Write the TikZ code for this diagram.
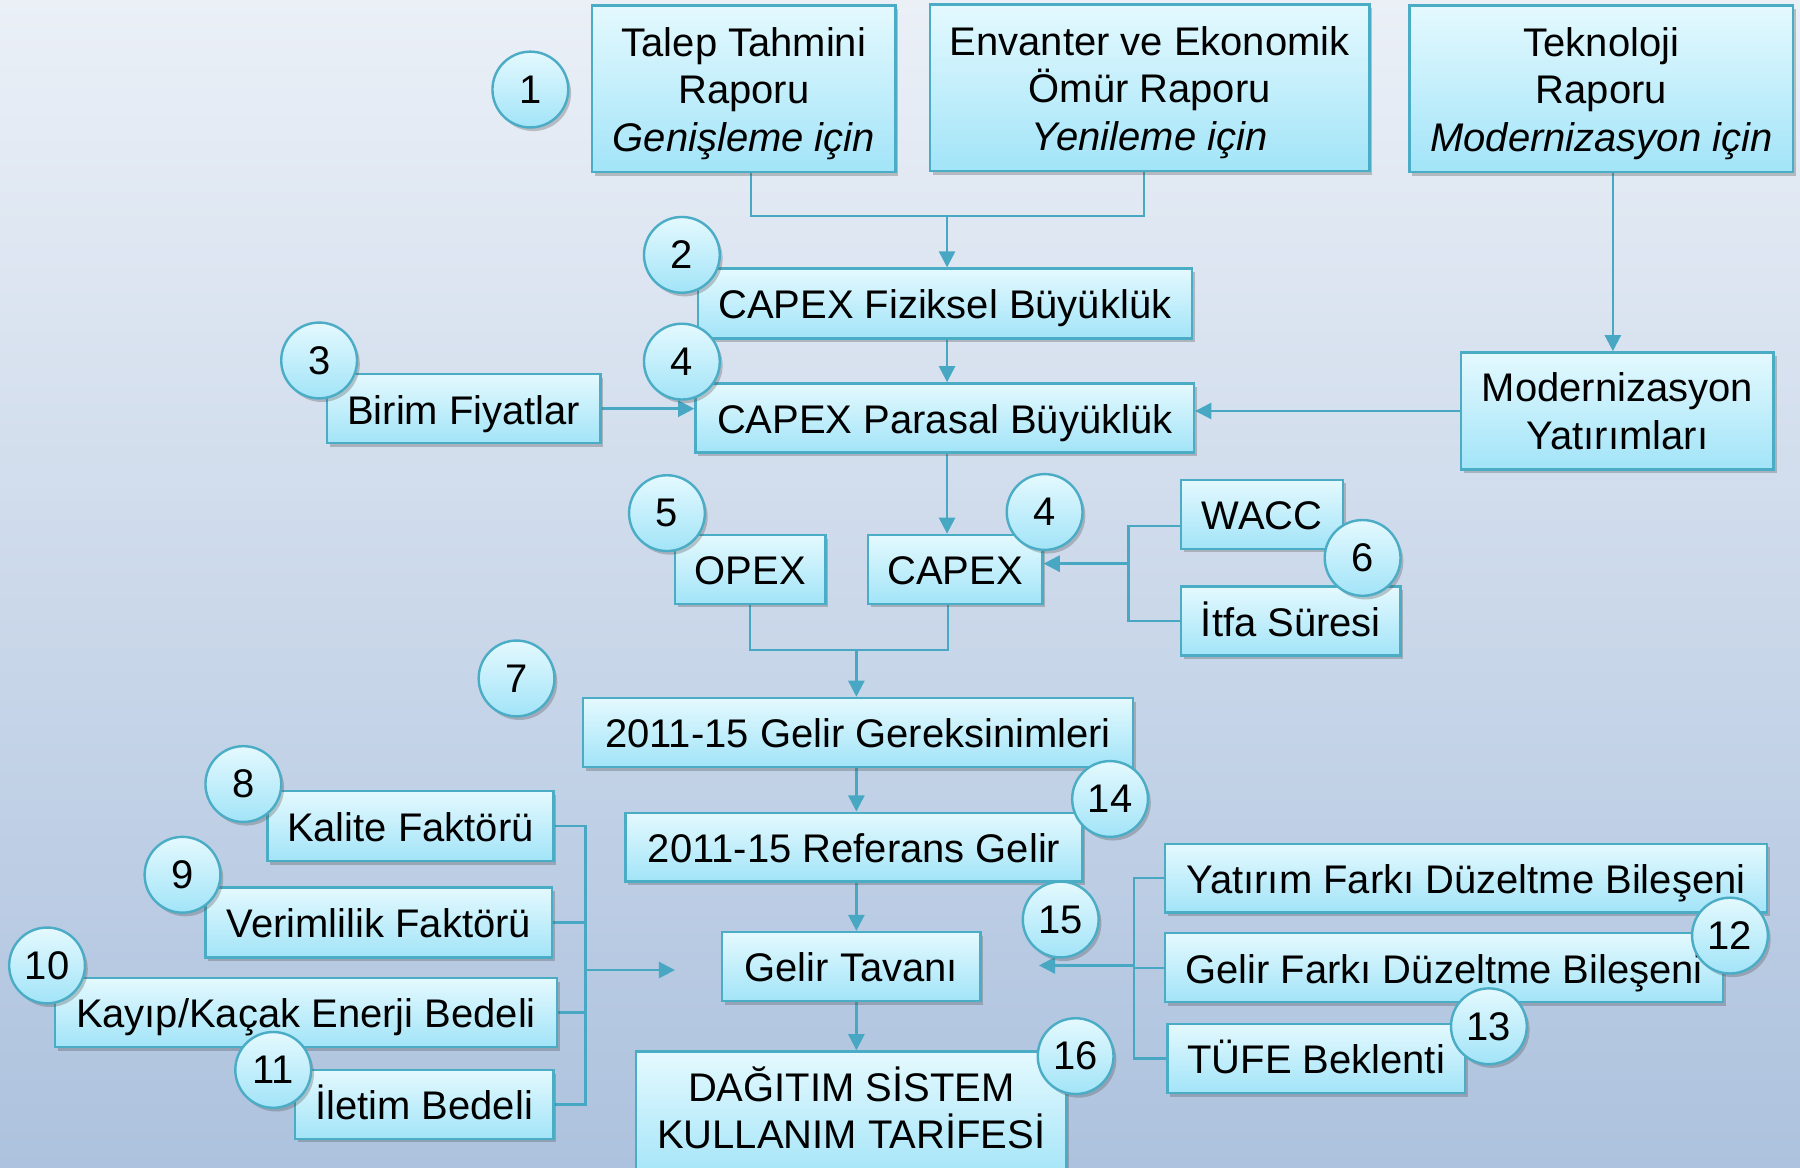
\documentclass[tikz,border=0pt]{standalone}
\usepackage{fontspec}
\setmainfont{Liberation Sans}
\usetikzlibrary{arrows.meta,shadows,calc}
\definecolor{bord}{HTML}{4BACC6}
\definecolor{linec}{HTML}{48A8C4}
\definecolor{boxtop}{HTML}{E4F9FE}
\definecolor{boxbot}{HTML}{A2E4F8}
\definecolor{bgtop}{HTML}{EBF0F7}
\definecolor{bgbot}{HTML}{ADC2DE}
\pgfdeclarelayer{bg}\pgfdeclarelayer{conn}\pgfsetlayers{bg,conn,main}
\newcommand{\fsz}{\fontsize{9.9}{11.8}\selectfont}
\newcommand{\upstrut}{\rule{0pt}{9.4pt}}
\newcommand{\dnstrut}{\rule[-4.6pt]{0pt}{4.6pt}}
\tikzset{
  shad/.style={drop shadow={shadow xshift=0.7pt,shadow yshift=-0.9pt,opacity=0.3,fill=black!70}},
  box/.style={draw=bord,line width=0.6pt,top color=boxtop,bottom color=boxbot,shad,
    inner sep=0pt,align=center,font=\fsz},
  boxone/.style={box,text height=8.6pt,text depth=1pt},
  num/.style={circle,draw=bord,line width=0.6pt,top color=boxtop,bottom color=boxbot,shad,
    minimum size=0.66cm,inner sep=0pt,font=\fsz},
  conn/.style={draw=linec,line width=0.6pt},
  arr/.style={conn,-{Triangle[length=4pt,width=4pt]}}
}
\begin{document}
\begin{tikzpicture}[x=0.01cm,y=-0.01cm]
\useasboundingbox (0,0) rectangle (1568,1017);
\clip (0,0) rectangle (1568,1017);
\begin{pgfonlayer}{bg}
\fill[top color=bgtop,bottom color=bgbot] (0,0) rectangle (1568,1017);
\end{pgfonlayer}
% boxes
\node[box,minimum width=2.64cm,minimum height=1.45cm] (talep) at (648,77.5) {\upstrut Talep Tahmini\\Raporu\\\textit{Genişleme için}};
\node[box,minimum width=3.83cm,minimum height=1.45cm] (envanter) at (1001.5,76.5) {\upstrut Envanter ve Ekonomik\\Ömür Raporu\\\textit{Yenileme için}};
\node[box,minimum width=3.34cm,minimum height=1.45cm] (tekno) at (1395,77.5) {\upstrut Teknoloji\\Raporu\\\textit{Modernizasyon için}};
\node[boxone,minimum width=4.30cm,minimum height=0.61cm] (fiz) at (823,264.5) {CAPEX Fiziksel Büyüklük};
\node[boxone,minimum width=2.38cm,minimum height=0.60cm] (birim) at (404,356) {Birim Fiyatlar};
\node[boxone,minimum width=4.34cm,minimum height=0.60cm] (paras) at (823,364) {CAPEX Parasal Büyüklük};
\node[box,minimum width=2.72cm,minimum height=1.02cm] (modern) at (1409,358) {Modernizasyon\\Yatırımları};
\node[boxone,minimum width=1.31cm,minimum height=0.60cm] (opex) at (653.5,496) {OPEX};
\node[boxone,minimum width=1.52cm,minimum height=0.60cm] (capex) at (832,496) {CAPEX};
\node[boxone,minimum width=1.41cm,minimum height=0.60cm] (wacc) at (1099.5,448) {WACC};
\node[boxone,minimum width=1.91cm,minimum height=0.60cm] (itfa) at (1124.5,541) {İtfa Süresi};
\node[boxone,minimum width=4.79cm,minimum height=0.60cm] (gg) at (747.5,638) {2011-15 Gelir Gereksinimleri};
\node[boxone,minimum width=3.98cm,minimum height=0.60cm] (ref) at (744,738) {2011-15 Referans Gelir};
\node[boxone,minimum width=2.25cm,minimum height=0.60cm] (tavan) at (741.5,842) {Gelir Tavanı};
\node[box,minimum width=3.75cm,minimum height=1.14cm] (dst) at (741.5,973) {DAĞITIM SİSTEM\\KULLANIM TARİFESİ\dnstrut};
\node[boxone,minimum width=2.49cm,minimum height=0.61cm] (kalite) at (357.5,719.5) {Kalite Faktörü};
\node[boxone,minimum width=3.02cm,minimum height=0.61cm] (verim) at (330,803.5) {Verimlilik Faktörü};
\node[boxone,minimum width=4.37cm,minimum height=0.60cm] (kayip) at (266.5,882) {Kayıp/Kaçak Enerji Bedeli};
\node[boxone,minimum width=2.25cm,minimum height=0.60cm] (iletim) at (369.5,962) {İletim Bedeli};
\node[boxone,minimum width=5.24cm,minimum height=0.60cm] (yatirim) at (1277,765) {Yatırım Farkı Düzeltme Bileşeni};
\node[boxone,minimum width=4.86cm,minimum height=0.60cm] (gelirfark) at (1258,843) {Gelir Farkı Düzeltme Bileşeni};
\node[boxone,minimum width=2.59cm,minimum height=0.60cm] (tufe) at (1146.5,922) {TÜFE Beklenti};
% numbers
\node[num] (c1) at (462,78) {1};
\node[num] (c2) at (594,222) {2};
\node[num] (c3) at (278,314) {3};
\node[num] (c4a) at (594,315) {4};
\node[num] (c5) at (581,447) {5};
\node[num] (c4b) at (910,446) {4};
\node[num] (c6) at (1187,486) {6};
\node[num] (c7) at (450,591) {7};
\node[num] (c8) at (212,683) {8};
\node[num] (c9) at (159,762) {9};
\node[num] (c10) at (41,841) {10};
\node[num] (c11) at (238,932) {11};
\node[num] (c12) at (1507,815) {12};
\node[num] (c13) at (1297,894) {13};
\node[num] (c14) at (967,696) {14};
\node[num] (c15) at (924,801) {15};
\node[num] (c16) at (937,920) {16};
% connectors
\begin{pgfonlayer}{conn}
\coordinate (j1) at (825,188);
\coordinate (t0) at ($(talep.south)+(6,0)$);
\coordinate (e0) at ($(envanter.south)+(-5,0)$);
\draw[conn] (t0) |- (j1) -| (e0);
\draw[arr] (j1) -- (j1 |- fiz.north);
\coordinate (t1) at ($(tekno.south)+(10,0)$);
\draw[arr] (t1) -- (t1 |- modern.north);
\draw[arr] (fiz.south -| j1) -- (j1 |- paras.north);
\draw[arr] (birim.east) -- (birim.east -| paras.west);
\draw[arr] (modern.west) -- (modern.west -| paras.east);
\draw[arr] (paras.south -| j1) -- (j1 |- capex.north);
\coordinate (j2) at (983,491);
\coordinate (w0) at ($(wacc.west)+(0,10)$);
\draw[conn] (w0) -| (j2 |- itfa.west) -- (itfa.west);
\draw[arr] (j2) -- (j2 -| capex.east);
\coordinate (j3) at (746,566);
\coordinate (cx) at ($(capex.south)+(-6,0)$);
\draw[conn] (opex.south) |- (j3) -| (cx);
\draw[arr] (j3) -- (j3 |- gg.north);
\draw[arr] (gg.south -| j3) -- (j3 |- ref.north);
\draw[arr] (ref.south -| j3) -- (j3 |- tavan.north);
\draw[arr] (tavan.south -| j3) -- (j3 |- dst.north);
\coordinate (j4) at (510,845);
\coordinate (e4) at (588,845);
\draw[conn] (kalite.east) -| (j4 |- iletim.east) -- (iletim.east);
\draw[conn] (verim.east) -- (verim.east -| j4);
\draw[conn] (kayip.east) -- (kayip.east -| j4);
\draw[arr] (j4) -- (e4);
\coordinate (j5) at (988,841);
\coordinate (e5) at (905,841);
\draw[conn] (yatirim.west) -| (j5 |- tufe.west) -- (tufe.west);
\draw[conn] (gelirfark.west) -- (gelirfark.west -| j5);
\draw[arr] (j5) -- (e5);
\end{pgfonlayer}
\end{tikzpicture}
\end{document}
